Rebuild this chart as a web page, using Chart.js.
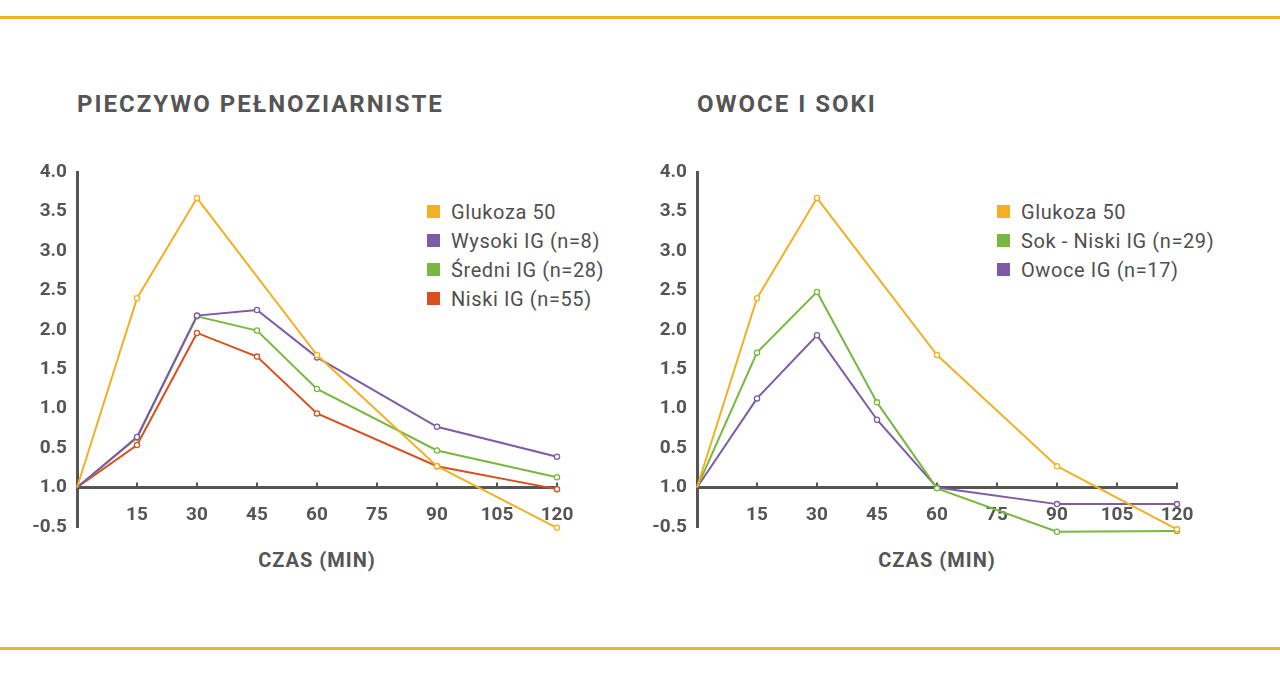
<!DOCTYPE html>
<html>
<head>
<meta charset="utf-8">
<script src="https://cdn.jsdelivr.net/npm/chart.js@4.4.1/dist/chart.umd.min.js"></script>
<style>
  html, body { margin: 0; padding: 0; background: #ffffff; }
  body { width: 1280px; height: 674px; position: relative; overflow: hidden; font-family: Roboto, "Liberation Sans", sans-serif; color: #555555; }
  .rule { position: absolute; left: 0; width: 1280px; height: 3px; background: #F0B323; }
  .title { position: absolute; top: 90px; font-weight: 700; font-size: 24px; letter-spacing: 2px; color: #555555; white-space: nowrap; }
  .xtitle { position: absolute; top: 548px; width: 240px; text-align: center; font-weight: 700; font-size: 20px; letter-spacing: 1px; color: #555555; }
  canvas { position: absolute; top: 150px; }
  .legend { position: absolute; top: 200px; }
  .legend .item { height: 29px; display: flex; align-items: center; font-size: 20px; letter-spacing: 0.6px; color: #4f4f4f; white-space: nowrap; position: relative; top: -3px; }
  .legend .sw { width: 13px; height: 13px; margin-right: 11px; flex: none; }
</style>
</head>
<body>
<div class="rule" style="top:16px"></div>
<div class="rule" style="top:647px"></div>

<div class="title" id="t1" style="left:77px"></div>
<div class="title" id="t2" style="left:697px"></div>
<div class="xtitle" id="x1" style="left:197px"></div>
<div class="xtitle" id="x2" style="left:817px"></div>
<div class="legend" id="leg1" style="left:427px"></div>
<div class="legend" id="leg2" style="left:997px"></div>

<canvas id="c1" width="640" height="400" style="left:0px"></canvas>
<canvas id="c2" width="640" height="400" style="left:620px"></canvas>

<script>
// ---- data ----
const panelTitles = ['PIECZYWO PEŁNOZIARNISTE', 'OWOCE I SOKI'];
const xAxisTitle = 'CZAS (MIN)';

const timeFull = [0, 15, 30, 45, 60, 90, 120];
const timeGlukoza = [0, 15, 30, 60, 90, 120];
const xTickValues = [0, 15, 30, 45, 60, 75, 90, 105, 120];
const yTickLabels = ['-0.5', '1.0', '0.5', '1.0', '1.5', '2.0', '2.5', '3.0', '3.5', '4.0'];

// left panel
const leftLabels = ['Glukoza 50', 'Wysoki IG (n=8)', 'Średni IG (n=28)', 'Niski IG (n=55)'];
const leftGlukoza = [0, 2.40, 3.67, 1.68, 0.27, -0.51];
const wysokiIG = [0, 0.64, 2.18, 2.25, 1.65, 0.77, 0.39];
const sredniIG = [0, 0.63, 2.17, 1.99, 1.25, 0.47, 0.13];
const niskiIG = [0, 0.54, 1.96, 1.66, 0.94, 0.27, -0.02];

// right panel
const rightLabels = ['Glukoza 50', 'Sok - Niski IG (n=29)', 'Owoce IG (n=17)'];
const rightGlukoza = [0, 2.40, 3.67, 1.68, 0.27, -0.53];
const sokNiskiIG = [0, 1.71, 2.48, 1.08, -0.01, -0.56, -0.55];
const owoceIG = [0, 1.13, 1.93, 0.86, 0.00, -0.21, -0.21];

// ---- styles ----
const C_YELLOW = '#F2B124';
const C_PURPLE = '#7D5BA6';
const C_GREEN = '#78B83E';
const C_RED = '#D9501E';
const INK = '#555555';

function pts(xs, ys) { return ys.map((v, i) => ({ x: xs[i], y: v })); }

function ds(label, xs, ys, color) {
  return {
    label: label,
    data: pts(xs, ys),
    borderColor: color,
    backgroundColor: color,
    borderWidth: 2,
    pointRadius: c => c.dataIndex === 0 ? 0 : 2.6,
    pointBorderWidth: 1.3,
    pointBackgroundColor: '#ffffff',
    pointBorderColor: color,
    tension: 0,
    clip: false
  };
}

const axisTicks = {
  id: 'axisTicks',
  beforeDatasetsDraw(chart) {
    const xs = chart.scales.x, ys = chart.scales.y, ctx = chart.ctx;
    const y0 = ys.getPixelForValue(0);
    ctx.save();
    ctx.strokeStyle = INK;
    ctx.lineWidth = 2;
    xs.ticks.forEach(t => {
      if (t.value === 0) return;
      const px = xs.getPixelForValue(t.value);
      ctx.beginPath();
      ctx.moveTo(px, y0);
      ctx.lineTo(px, y0 - 5);
      ctx.stroke();
    });
    ctx.restore();
  }
};

function makeChart(id, datasets) {
  return new Chart(document.getElementById(id), {
    type: 'line',
    data: { datasets: datasets },
    plugins: [axisTicks],
    options: {
      responsive: false,
      animation: false,
      devicePixelRatio: 1,
      layout: { padding: { left: 0, right: 83, top: 22, bottom: 23 } },
      plugins: { legend: { display: false }, tooltip: { enabled: false } },
      scales: {
        x: {
          type: 'linear',
          min: 0, max: 120,
          position: { y: 0 },
          afterBuildTicks: s => { s.ticks = xTickValues.map(v => ({ value: v })); },
          ticks: {
            padding: 16,
            maxRotation: 0,
            autoSkip: false,
            color: INK,
            font: { family: 'Roboto', weight: 'bold', size: 19 },
            callback: v => v === 0 ? '' : String(v)
          },
          grid: { display: false, drawTicks: false },
          border: { display: true, color: INK, width: 3 }
        },
        y: {
          type: 'linear',
          min: -0.5, max: 4.0,
          afterFit: s => { s.width = 77; },
          ticks: {
            stepSize: 0.5,
            padding: 10,
            color: INK,
            font: { family: 'Roboto', weight: 'bold', size: 19 },
            callback: (v, i) => yTickLabels[i]
          },
          grid: { display: false, drawTicks: false },
          border: { display: true, color: INK, width: 3 }
        }
      }
    }
  });
}

makeChart('c1', [
  ds(leftLabels[0], timeGlukoza, leftGlukoza, C_YELLOW),
  ds(leftLabels[1], timeFull, wysokiIG, C_PURPLE),
  ds(leftLabels[2], timeFull, sredniIG, C_GREEN),
  ds(leftLabels[3], timeFull, niskiIG, C_RED)
]);
makeChart('c2', [
  ds(rightLabels[0], timeGlukoza, rightGlukoza, C_YELLOW),
  ds(rightLabels[1], timeFull, sokNiskiIG, C_GREEN),
  ds(rightLabels[2], timeFull, owoceIG, C_PURPLE)
]);

// titles and legends (text)
document.getElementById('t1').textContent = panelTitles[0];
document.getElementById('t2').textContent = panelTitles[1];
document.getElementById('x1').textContent = xAxisTitle;
document.getElementById('x2').textContent = xAxisTitle;

function buildLegend(id, labels, colors) {
  const el = document.getElementById(id);
  labels.forEach((l, i) => {
    const it = document.createElement('div');
    it.className = 'item';
    const sw = document.createElement('span');
    sw.className = 'sw';
    sw.style.background = colors[i];
    const tx = document.createElement('span');
    tx.textContent = l;
    it.appendChild(sw); it.appendChild(tx);
    el.appendChild(it);
  });
}
buildLegend('leg1', leftLabels, [C_YELLOW, C_PURPLE, C_GREEN, C_RED]);
buildLegend('leg2', rightLabels, [C_YELLOW, C_GREEN, C_PURPLE]);
</script>
</body>
</html>
